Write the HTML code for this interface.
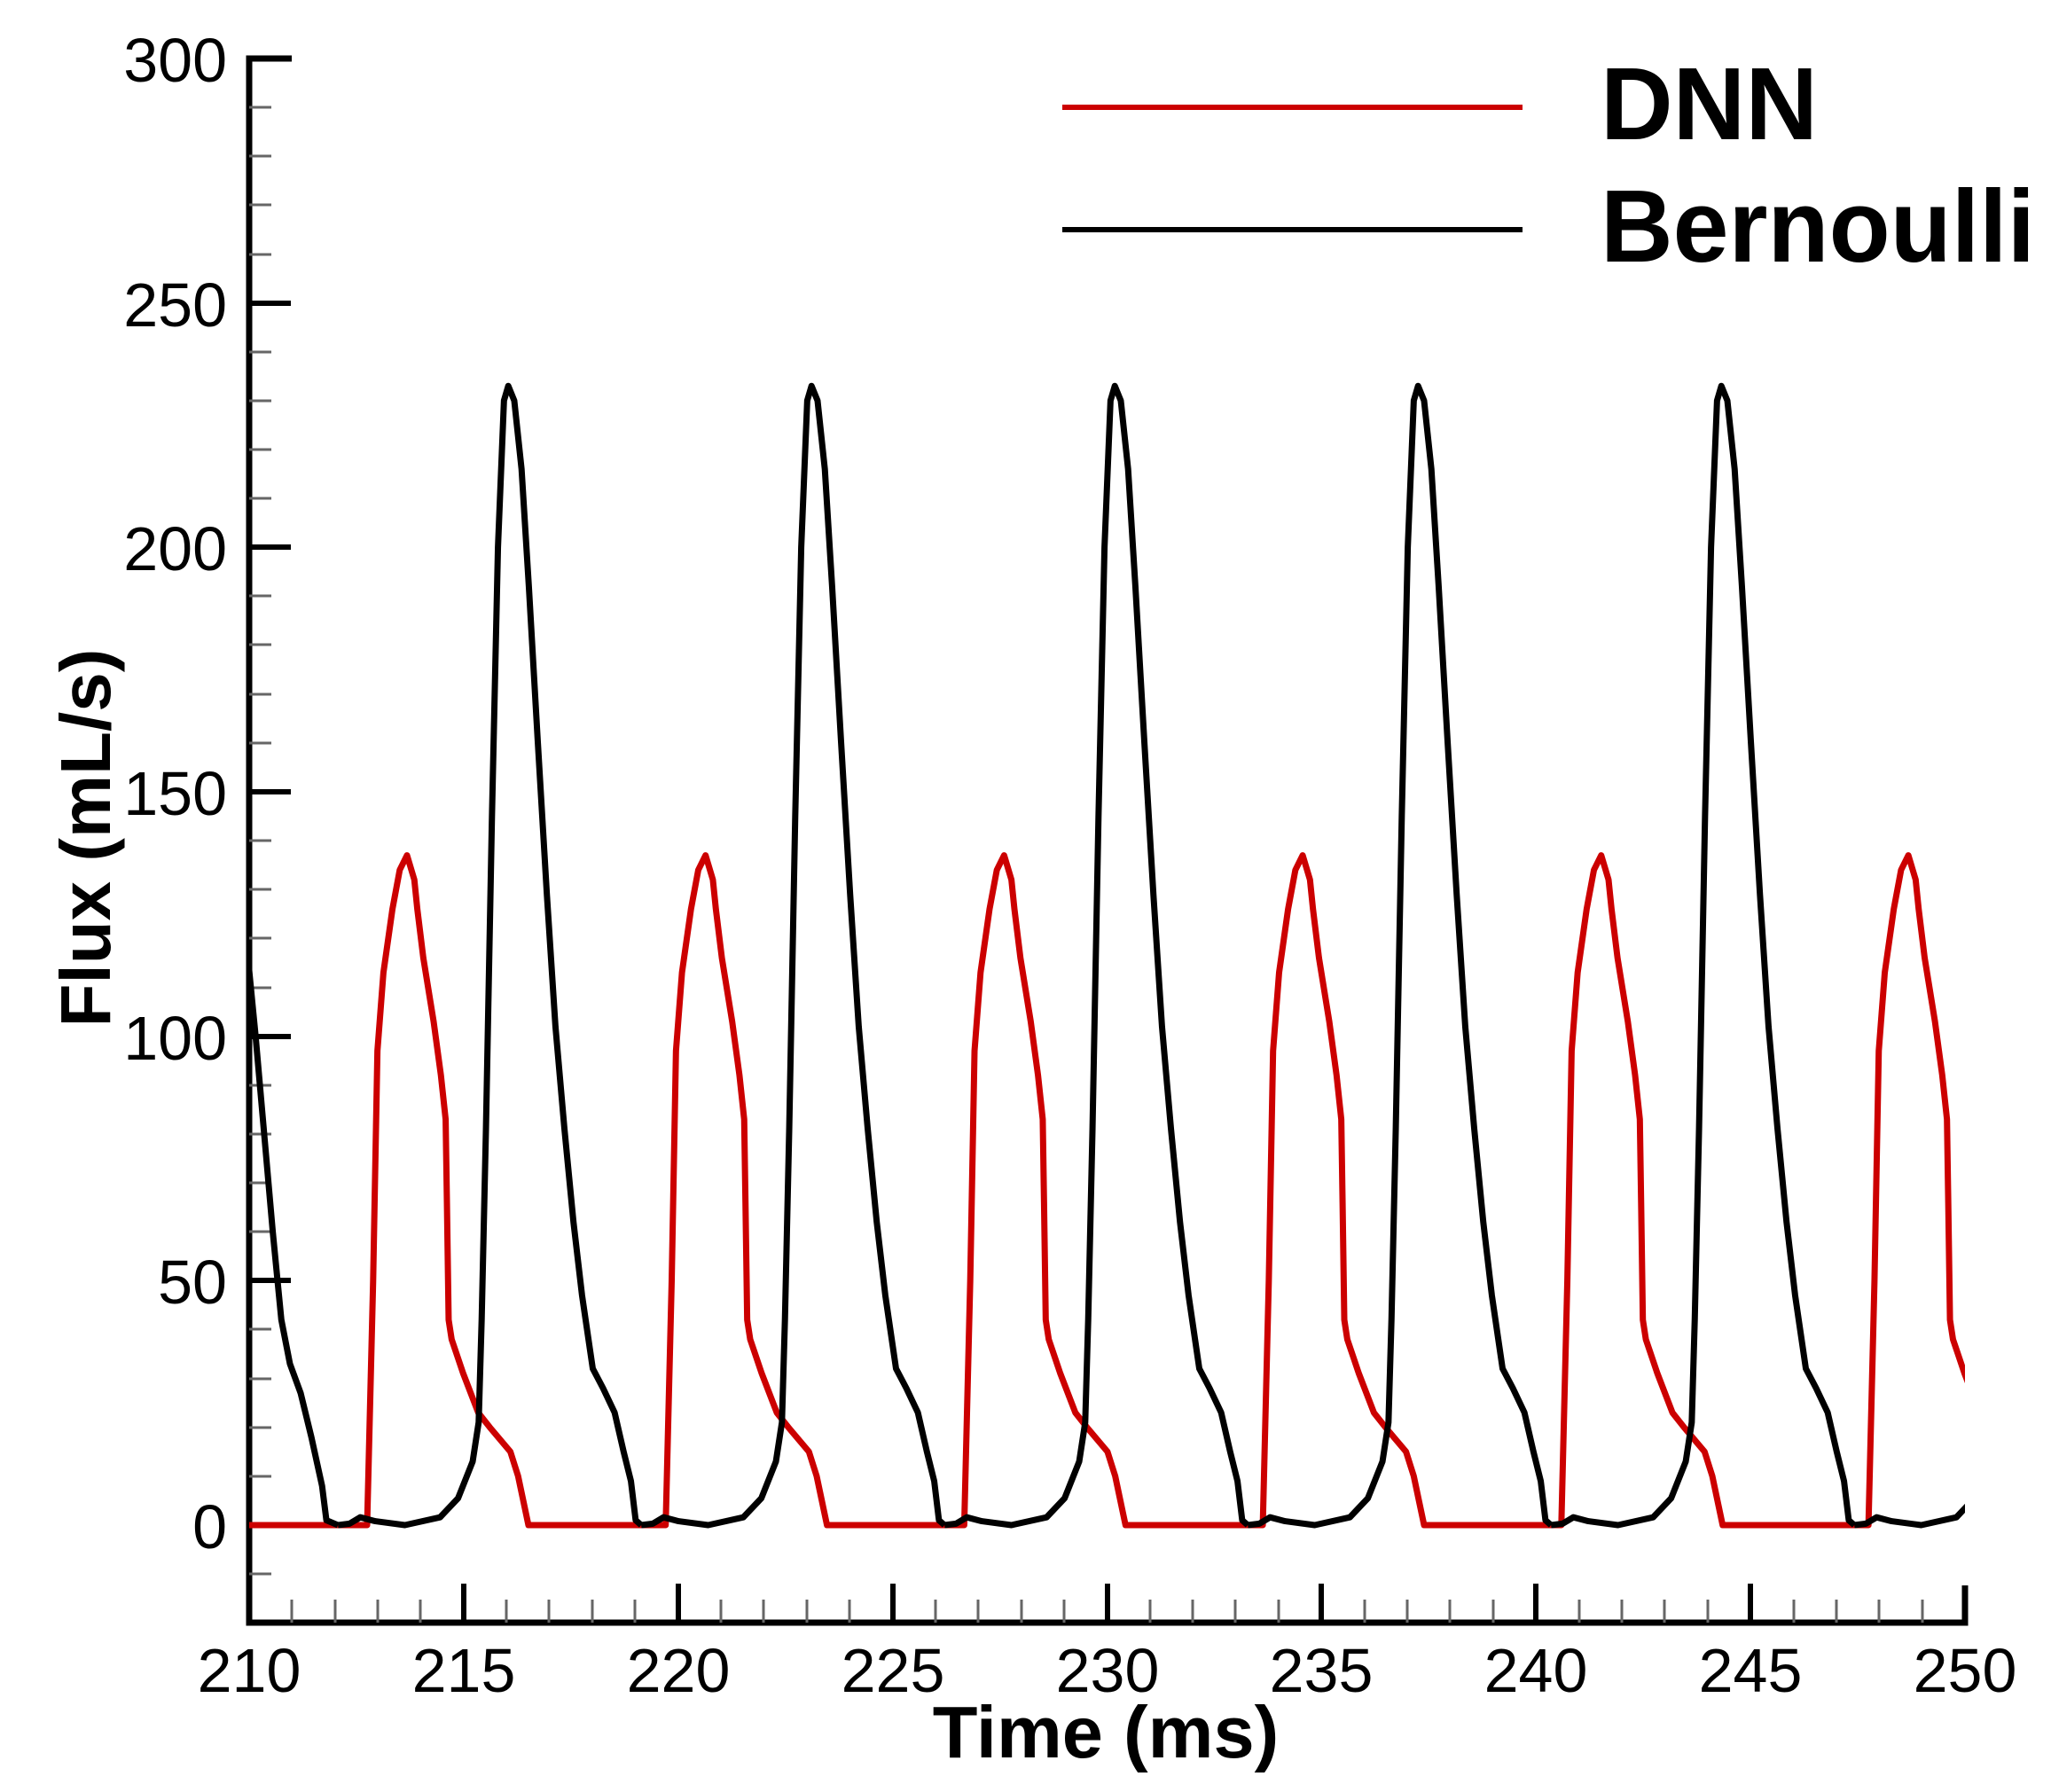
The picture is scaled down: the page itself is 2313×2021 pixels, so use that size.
<!DOCTYPE html>
<html><head><meta charset="utf-8"><style>
html,body{margin:0;padding:0;background:#fff;}
svg{display:block;}
text{font-family:"Liberation Sans",Arial,sans-serif;}
</style></head><body>
<svg width="2313" height="2021" viewBox="0 0 2313 2021" xmlns="http://www.w3.org/2000/svg">
<defs>
<clipPath id="clip"><rect x="281" y="0" width="1935" height="1830"/></clipPath>
<path id="dnn" fill="none" stroke="#cc0000" stroke-width="7" vector-effect="non-scaling-stroke" stroke-linejoin="round"
 d="M-1,0 L0,0 L0.14,50 L0.24,97 L0.38,113 L0.59,126 L0.76,134 L0.93,137 L1.10,132 L1.17,126 L1.31,116 L1.55,103 L1.72,92 L1.83,83 L1.86,66 L1.90,42 L1.97,38 L2.24,31 L2.59,23 L2.86,20 L3.34,15 L3.52,10 L3.76,0 L6.96,0"/>
<path id="ber" fill="none" stroke="#000" stroke-width="7" vector-effect="non-scaling-stroke" stroke-linejoin="round"
 d="M-3.97,0 L-3.70,0.3 L-3.45,1.6 L-3.10,0.8 L-2.41,0 L-1.59,1.6 L-1.17,5.5 L-0.83,13 L-0.69,21 L-0.62,42 L-0.52,81 L-0.38,145 L-0.24,200 L-0.10,230 L0,233 L0.14,230 L0.31,216 L0.48,192 L0.69,160 L0.90,129 L1.10,102 L1.31,81 L1.52,62 L1.72,47 L1.97,32 L2.21,28 L2.48,23 L2.69,15 L2.86,9 L2.97,1 L3.10,0"/>
</defs>

<g stroke="#000" fill="none">
<path d="M329,66 L281,66 L281,1830 L2216,1830 L2216,1788" stroke-width="7" stroke-linejoin="miter"/>
<g stroke-width="6">
<line x1="281" y1="342" x2="328" y2="342"/>
<line x1="281" y1="617" x2="328" y2="617"/>
<line x1="281" y1="893" x2="328" y2="893"/>
<line x1="281" y1="1169" x2="328" y2="1169"/>
<line x1="281" y1="1444" x2="328" y2="1444"/>
<line x1="281" y1="1720" x2="328" y2="1720"/>
</g>
<g stroke-width="6">
<line x1="523" y1="1830" x2="523" y2="1786"/>
<line x1="765" y1="1830" x2="765" y2="1786"/>
<line x1="1007" y1="1830" x2="1007" y2="1786"/>
<line x1="1249" y1="1830" x2="1249" y2="1786"/>
<line x1="1490" y1="1830" x2="1490" y2="1786"/>
<line x1="1732" y1="1830" x2="1732" y2="1786"/>
<line x1="1974" y1="1830" x2="1974" y2="1786"/>
</g>
</g>
<g stroke="#666" stroke-width="3" fill="none">
<line x1="281" y1="121" x2="306" y2="121"/><line x1="281" y1="176" x2="306" y2="176"/><line x1="281" y1="231" x2="306" y2="231"/><line x1="281" y1="287" x2="306" y2="287"/>
<line x1="281" y1="397" x2="306" y2="397"/><line x1="281" y1="452" x2="306" y2="452"/><line x1="281" y1="507" x2="306" y2="507"/><line x1="281" y1="562" x2="306" y2="562"/>
<line x1="281" y1="672" x2="306" y2="672"/><line x1="281" y1="727" x2="306" y2="727"/><line x1="281" y1="783" x2="306" y2="783"/><line x1="281" y1="838" x2="306" y2="838"/>
<line x1="281" y1="948" x2="306" y2="948"/><line x1="281" y1="1003" x2="306" y2="1003"/><line x1="281" y1="1058" x2="306" y2="1058"/><line x1="281" y1="1114" x2="306" y2="1114"/>
<line x1="281" y1="1224" x2="306" y2="1224"/><line x1="281" y1="1279" x2="306" y2="1279"/><line x1="281" y1="1334" x2="306" y2="1334"/><line x1="281" y1="1389" x2="306" y2="1389"/>
<line x1="281" y1="1499" x2="306" y2="1499"/><line x1="281" y1="1555" x2="306" y2="1555"/><line x1="281" y1="1610" x2="306" y2="1610"/><line x1="281" y1="1665" x2="306" y2="1665"/>
<line x1="281" y1="1775" x2="306" y2="1775"/>
<line x1="329" y1="1830" x2="329" y2="1804"/><line x1="378" y1="1830" x2="378" y2="1804"/><line x1="426" y1="1830" x2="426" y2="1804"/><line x1="474" y1="1830" x2="474" y2="1804"/>
<line x1="571" y1="1830" x2="571" y2="1804"/><line x1="619" y1="1830" x2="619" y2="1804"/><line x1="668" y1="1830" x2="668" y2="1804"/><line x1="716" y1="1830" x2="716" y2="1804"/>
<line x1="813" y1="1830" x2="813" y2="1804"/><line x1="861" y1="1830" x2="861" y2="1804"/><line x1="910" y1="1830" x2="910" y2="1804"/><line x1="958" y1="1830" x2="958" y2="1804"/>
<line x1="1055" y1="1830" x2="1055" y2="1804"/><line x1="1103" y1="1830" x2="1103" y2="1804"/><line x1="1152" y1="1830" x2="1152" y2="1804"/><line x1="1200" y1="1830" x2="1200" y2="1804"/>
<line x1="1297" y1="1830" x2="1297" y2="1804"/><line x1="1345" y1="1830" x2="1345" y2="1804"/><line x1="1393" y1="1830" x2="1393" y2="1804"/><line x1="1442" y1="1830" x2="1442" y2="1804"/>
<line x1="1539" y1="1830" x2="1539" y2="1804"/><line x1="1587" y1="1830" x2="1587" y2="1804"/><line x1="1635" y1="1830" x2="1635" y2="1804"/><line x1="1684" y1="1830" x2="1684" y2="1804"/>
<line x1="1781" y1="1830" x2="1781" y2="1804"/><line x1="1829" y1="1830" x2="1829" y2="1804"/><line x1="1877" y1="1830" x2="1877" y2="1804"/><line x1="1926" y1="1830" x2="1926" y2="1804"/>
<line x1="2023" y1="1830" x2="2023" y2="1804"/><line x1="2071" y1="1830" x2="2071" y2="1804"/><line x1="2119" y1="1830" x2="2119" y2="1804"/><line x1="2168" y1="1830" x2="2168" y2="1804"/>
</g>

<g clip-path="url(#clip)">
<g transform="matrix(48.375 0 0 -5.514 -9877.75 1720)">
<use href="#dnn" transform="translate(205.79,0)"/>
<use href="#dnn" transform="translate(212.75,0)"/>
<use href="#dnn" transform="translate(219.71,0)"/>
<use href="#dnn" transform="translate(226.67,0)"/>
<use href="#dnn" transform="translate(233.63,0)"/>
<use href="#dnn" transform="translate(240.59,0)"/>
<use href="#dnn" transform="translate(247.75,0)"/>
<path fill="none" stroke="#000" stroke-width="7" vector-effect="non-scaling-stroke" stroke-linejoin="round" d="M209.95,118 L210.15,100 L210.35,80 L210.55,60 L210.75,42 L210.95,33 L211.2,27 L211.45,18 L211.7,8 L211.8,1 L212.07,0"/>
<use href="#ber" transform="translate(216.04,0)"/>
<use href="#ber" transform="translate(223.11,0)"/>
<use href="#ber" transform="translate(230.18,0)"/>
<use href="#ber" transform="translate(237.25,0)"/>
<use href="#ber" transform="translate(244.32,0)"/>
<use href="#ber" transform="translate(251.39,0)"/>
</g>
</g>

<g font-size="70" fill="#000" text-anchor="end">
<text x="256" y="92">300</text>
<text x="256" y="368">250</text>
<text x="256" y="643">200</text>
<text x="256" y="919">150</text>
<text x="256" y="1195">100</text>
<text x="256" y="1470">50</text>
<text x="256" y="1746">0</text>
</g>
<g font-size="70" fill="#000" text-anchor="middle">
<text x="281" y="1908">210</text>
<text x="523" y="1908">215</text>
<text x="765" y="1908">220</text>
<text x="1007" y="1908">225</text>
<text x="1249" y="1908">230</text>
<text x="1490" y="1908">235</text>
<text x="1732" y="1908">240</text>
<text x="1974" y="1908">245</text>
<text x="2216" y="1908">250</text>
</g>

<text x="1247" y="1982" font-size="83" font-weight="bold" text-anchor="middle">Time (ms)</text>
<text transform="translate(124,945) rotate(-90)" font-size="80" font-weight="bold" text-anchor="middle">Flux (mL/s)</text>

<line x1="1198" y1="121" x2="1717" y2="121" stroke="#cc0000" stroke-width="6"/>
<line x1="1198" y1="259" x2="1717" y2="259" stroke="#000" stroke-width="6"/>
<text x="1805" y="157" font-size="116" font-weight="bold" textLength="245" lengthAdjust="spacingAndGlyphs">DNN</text>
<text x="1805" y="295" font-size="116" font-weight="bold" textLength="490" lengthAdjust="spacingAndGlyphs">Bernoulli</text>
</svg>
</body></html>
